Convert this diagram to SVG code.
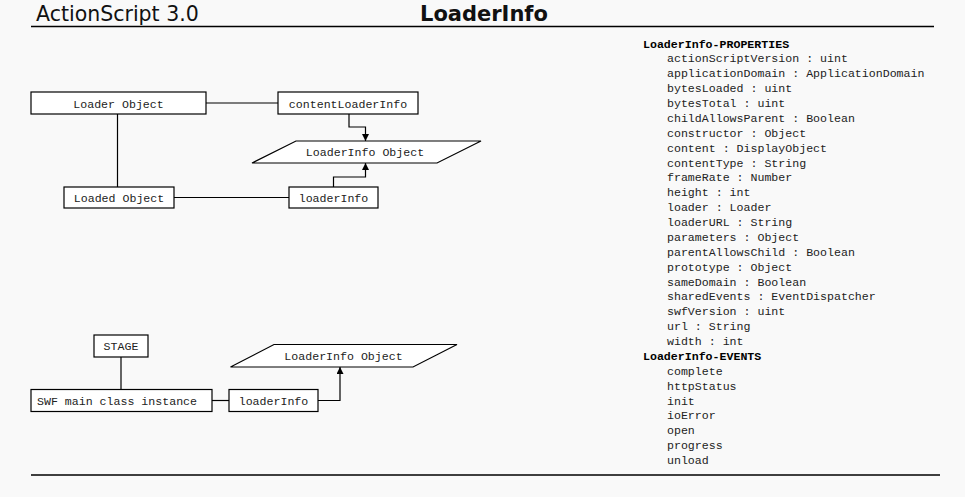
<svg xmlns="http://www.w3.org/2000/svg" width="965" height="497" viewBox="0 0 965 497">
<defs>
<style>
.bg{fill:#f9f9f9}
.box{fill:#ffffff;stroke:#000;stroke-width:1.2}
.lbl{font-family:"Liberation Mono","Courier New",monospace;font-size:11.6px;fill:#222;text-anchor:middle}
.ln{fill:none;stroke:#000;stroke-width:1.2}
.rule{stroke:#000;stroke-width:1.6}
.mono{font-family:"Liberation Mono","Courier New",monospace;font-size:11.6px;fill:#222}
.hd{font-family:"Liberation Mono","Courier New",monospace;font-size:11.6px;font-weight:bold;fill:#000}
</style>
<marker id="ah" viewBox="0 0 10 10" refX="10" refY="5" markerWidth="7" markerHeight="7" markerUnits="userSpaceOnUse" orient="auto">
<path d="M0,0 L10,5 L0,10 z" fill="#000"/>
</marker>
</defs>
<rect class="bg" x="0" y="0" width="965" height="497"/>
<g id="header">
<text x="36" y="21" font-family="DejaVu Sans, sans-serif" font-size="20.5" fill="#111">ActionScript 3.0</text>
<text x="420" y="21" font-family="DejaVu Sans, sans-serif" font-size="21" font-weight="bold" fill="#111">LoaderInfo</text>
<line class="rule" x1="31" y1="26.5" x2="934" y2="26.5"/>
<line class="rule" x1="31" y1="475" x2="940" y2="475"/>
</g>
<g id="connectors">
<line class="ln" x1="206" y1="103" x2="278" y2="103"/>
<line class="ln" x1="117.5" y1="114" x2="117.5" y2="187"/>
<line class="ln" x1="174" y1="197.5" x2="289" y2="197.5"/>
<polyline class="ln" points="349,114 349,127 365.5,127 365.5,141" marker-end="url(#ah)"/>
<polyline class="ln" points="333.5,187 333.5,177 365.5,177 365.5,163" marker-end="url(#ah)"/>
<line class="ln" x1="121" y1="357" x2="121" y2="389"/>
<line class="ln" x1="212" y1="400.5" x2="229" y2="400.5"/>
<polyline class="ln" points="318,400.5 340,400.5 340,367" marker-end="url(#ah)"/>
</g>
<g id="loader-object">
<rect class="box" x="31" y="92" width="175" height="22"/>
<text class="lbl" x="118.5" y="107.5">Loader Object</text>
</g>
<g id="content-loader-info">
<rect class="box" x="278" y="92" width="140" height="22"/>
<text class="lbl" x="348" y="107.5">contentLoaderInfo</text>
</g>
<g id="loaderinfo-object-1">
<polygon class="box" points="296,141 481,141 437,163 252,163"/>
<text class="lbl" x="365" y="156">LoaderInfo Object</text>
</g>
<g id="loaded-object">
<rect class="box" x="64" y="187" width="110" height="21"/>
<text class="lbl" x="119" y="202">Loaded Object</text>
</g>
<g id="loader-info-1">
<rect class="box" x="289" y="187" width="89" height="21"/>
<text class="lbl" x="333.5" y="202">loaderInfo</text>
</g>
<g id="stage">
<rect class="box" x="94" y="335" width="54" height="22"/>
<text class="lbl" x="121" y="350">STAGE</text>
</g>
<g id="loaderinfo-object-2">
<polygon class="box" points="274,344.5 457,344.5 413,367 230.5,367"/>
<text class="lbl" x="343.5" y="360">LoaderInfo Object</text>
</g>
<g id="swf-main">
<rect class="box" x="31" y="389.5" width="181" height="22"/>
<text class="lbl" x="117" y="404.5">SWF main class instance</text>
</g>
<g id="loader-info-2">
<rect class="box" x="229" y="389.5" width="89" height="22"/>
<text class="lbl" x="273.5" y="404.5">loaderInfo</text>
</g>
<g id="member-list">
<text class="hd" x="643" y="47.5">LoaderInfo-PROPERTIES</text>
<text class="mono" x="667" y="62.4">actionScriptVersion : uint</text>
<text class="mono" x="667" y="77.3">applicationDomain : ApplicationDomain</text>
<text class="mono" x="667" y="92.1">bytesLoaded : uint</text>
<text class="mono" x="667" y="107">bytesTotal : uint</text>
<text class="mono" x="667" y="121.9">childAllowsParent : Boolean</text>
<text class="mono" x="667" y="136.8">constructor : Object</text>
<text class="mono" x="667" y="151.6">content : DisplayObject</text>
<text class="mono" x="667" y="166.5">contentType : String</text>
<text class="mono" x="667" y="181.4">frameRate : Number</text>
<text class="mono" x="667" y="196.3">height : int</text>
<text class="mono" x="667" y="211.1">loader : Loader</text>
<text class="mono" x="667" y="226">loaderURL : String</text>
<text class="mono" x="667" y="240.9">parameters : Object</text>
<text class="mono" x="667" y="255.8">parentAllowsChild : Boolean</text>
<text class="mono" x="667" y="270.6">prototype : Object</text>
<text class="mono" x="667" y="285.5">sameDomain : Boolean</text>
<text class="mono" x="667" y="300.4">sharedEvents : EventDispatcher</text>
<text class="mono" x="667" y="315.3">swfVersion : uint</text>
<text class="mono" x="667" y="330.1">url : String</text>
<text class="mono" x="667" y="345">width : int</text>
<text class="hd" x="643" y="359.9">LoaderInfo-EVENTS</text>
<text class="mono" x="667" y="374.8">complete</text>
<text class="mono" x="667" y="389.6">httpStatus</text>
<text class="mono" x="667" y="404.5">init</text>
<text class="mono" x="667" y="419.4">ioError</text>
<text class="mono" x="667" y="434.3">open</text>
<text class="mono" x="667" y="449.1">progress</text>
<text class="mono" x="667" y="464">unload</text>
</g>
</svg>
